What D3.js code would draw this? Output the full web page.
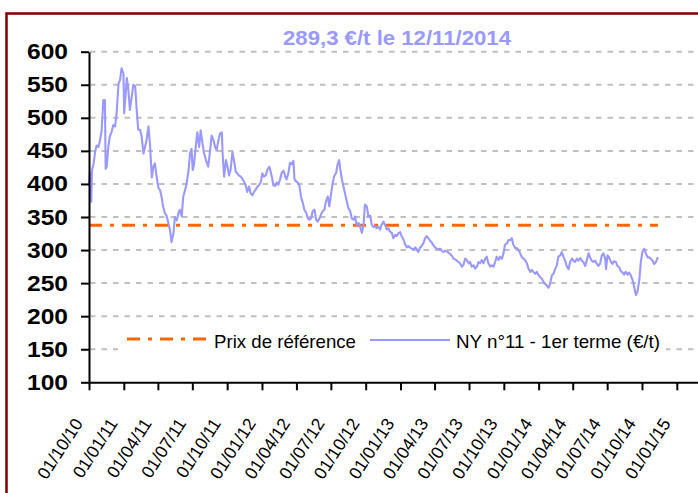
<!DOCTYPE html>
<html>
<head>
<meta charset="utf-8">
<script src="https://cdn.jsdelivr.net/npm/d3@7"></script>
<style>
	body { margin: 0; background: #fff; }
	svg { display: block; font-family: "Liberation Sans", Arial, sans-serif; }
</style>
</head>
<body>
<svg id="viz"></svg>
<script>

	// the data (NY n°11, 1er terme, en €/t)
	var dates = [
		"2010-10-01","2010-10-03","2010-10-05","2010-10-07","2010-10-09","2010-10-13","2010-10-17","2010-10-21","2010-10-26","2010-10-30",
		"2010-11-03","2010-11-08","2010-11-12","2010-11-14","2010-11-17","2010-11-21","2010-11-25","2010-11-30",
		"2010-12-04","2010-12-09","2010-12-13","2010-12-18","2010-12-22","2010-12-26","2010-12-31",
		"2011-01-02","2011-01-04","2011-01-09","2011-01-13","2011-01-17","2011-01-22","2011-01-26","2011-01-31",
		"2011-02-04","2011-02-08","2011-02-13","2011-02-17","2011-02-22","2011-02-26",
		"2011-03-02","2011-03-07","2011-03-11","2011-03-16","2011-03-20","2011-03-24","2011-03-29",
		"2011-04-02","2011-04-07","2011-04-11","2011-04-15","2011-04-20","2011-04-24","2011-04-29",
		"2011-05-03","2011-05-07","2011-05-12","2011-05-16","2011-05-21","2011-05-25","2011-05-29",
		"2011-06-03","2011-06-07","2011-06-12","2011-06-16","2011-06-21","2011-06-25","2011-06-29",
		"2011-07-02","2011-07-05","2011-07-10","2011-07-14","2011-07-19","2011-07-23","2011-07-28",
		"2011-08-01","2011-08-06","2011-08-12","2011-08-17","2011-08-21","2011-08-26","2011-08-30",
		"2011-09-03","2011-09-08","2011-09-12","2011-09-17","2011-09-19","2011-09-23","2011-09-28",
		"2011-10-02","2011-10-06","2011-10-10","2011-10-15","2011-10-19","2011-10-24","2011-10-28",
		"2011-11-01","2011-11-06","2011-11-10","2011-11-15","2011-11-19","2011-11-23","2011-11-28",
		"2011-12-02","2011-12-07","2011-12-11","2011-12-15","2011-12-20","2011-12-24","2011-12-29",
		"2012-01-02","2012-01-06","2012-01-11","2012-01-15","2012-01-20","2012-01-22","2012-01-27","2012-01-31",
		"2012-02-05","2012-02-09","2012-02-13","2012-02-18","2012-02-22","2012-02-27",
		"2012-03-02","2012-03-06","2012-03-11","2012-03-15","2012-03-20","2012-03-24","2012-03-27","2012-03-31",
		"2012-04-05","2012-04-09","2012-04-13","2012-04-18","2012-04-22","2012-04-27",
		"2012-05-01","2012-05-05","2012-05-10","2012-05-14","2012-05-19","2012-05-23","2012-05-27",
		"2012-06-01","2012-06-05","2012-06-10","2012-06-14","2012-06-18","2012-06-23","2012-06-27",
		"2012-07-02","2012-07-06","2012-07-10","2012-07-15","2012-07-19","2012-07-23","2012-07-26","2012-07-30",
		"2012-08-03","2012-08-08","2012-08-12","2012-08-16","2012-08-21","2012-08-25","2012-08-30",
		"2012-09-03","2012-09-07","2012-09-12","2012-09-16","2012-09-21","2012-09-25","2012-09-29",
		"2012-10-04","2012-10-08","2012-10-13","2012-10-17","2012-10-21","2012-10-26","2012-10-30",
		"2012-11-04","2012-11-08","2012-11-12","2012-11-17","2012-11-21","2012-11-26","2012-11-30",
		"2012-12-04","2012-12-09","2012-12-13","2012-12-18","2012-12-22","2012-12-27","2012-12-31",
		"2013-01-04","2013-01-09","2013-01-13","2013-01-18","2013-01-22","2013-01-26","2013-01-31",
		"2013-02-04","2013-02-09","2013-02-13","2013-02-17","2013-02-22","2013-02-26",
		"2013-03-03","2013-03-07","2013-03-11","2013-03-16","2013-03-20","2013-03-25","2013-03-29",
		"2013-04-02","2013-04-07","2013-04-11","2013-04-16","2013-04-20","2013-04-24","2013-04-29",
		"2013-05-03","2013-05-08","2013-05-12","2013-05-16","2013-05-21","2013-05-25","2013-05-30",
		"2013-06-03","2013-06-07","2013-06-12","2013-06-16","2013-06-21","2013-06-25","2013-06-30",
		"2013-07-04","2013-07-08","2013-07-13","2013-07-17","2013-07-22","2013-07-26","2013-07-30",
		"2013-08-04","2013-08-08","2013-08-13","2013-08-17","2013-08-21","2013-08-26","2013-08-30",
		"2013-09-04","2013-09-08","2013-09-12","2013-09-17","2013-09-21","2013-09-26","2013-09-30",
		"2013-10-04","2013-10-09","2013-10-13","2013-10-18","2013-10-22","2013-10-26","2013-10-31",
		"2013-11-04","2013-11-09","2013-11-13","2013-11-17","2013-11-22","2013-11-26",
		"2013-12-01","2013-12-05","2013-12-10","2013-12-14","2013-12-18","2013-12-23","2013-12-27",
		"2014-01-01","2014-01-05","2014-01-09","2014-01-14","2014-01-18","2014-01-23","2014-01-27","2014-01-31",
		"2014-02-05","2014-02-09","2014-02-14","2014-02-18","2014-02-22","2014-02-27",
		"2014-03-03","2014-03-08","2014-03-12","2014-03-16","2014-03-21","2014-03-25","2014-03-30",
		"2014-04-03","2014-04-07","2014-04-12","2014-04-16","2014-04-21","2014-04-25","2014-04-29",
		"2014-05-04","2014-05-08","2014-05-13","2014-05-17","2014-05-21","2014-05-26","2014-05-30",
		"2014-06-04","2014-06-08","2014-06-12","2014-06-17","2014-06-21","2014-06-26","2014-06-28",
		"2014-07-02","2014-07-06","2014-07-11","2014-07-15","2014-07-19","2014-07-24","2014-07-28",
		"2014-08-02","2014-08-06","2014-08-11","2014-08-15","2014-08-19","2014-08-24","2014-08-28",
		"2014-09-02","2014-09-06","2014-09-10","2014-09-15","2014-09-19","2014-09-24","2014-09-28",
		"2014-10-02","2014-10-07","2014-10-11","2014-10-16","2014-10-20","2014-10-24","2014-10-29",
		"2014-11-02","2014-11-07","2014-11-12"
	];

	var prices = [
		400,417,386,373,421,430,448,458,456,466,
		479,527,527,423,426,456,472,479,
		489,487,507,552,557,575,567,
		507,522,560,542,512,532,550,548,
		512,482,482,472,446,456,
		466,487,461,410,426,431,410,
		395,390,380,365,355,352,340,
		330,312,325,350,345,355,361,
		351,381,391,401,421,446,453,
		421,428,456,478,456,481,461,
		446,436,426,451,473,466,456,
		451,466,476,478,446,411,436,
		426,413,421,448,436,418,416,
		413,411,408,403,398,388,396,
		386,383,388,391,396,398,403,
		416,411,413,421,426,423,411,398,
		397,402,399,407,417,420,
		412,407,417,432,430,435,407,404,
		402,397,381,371,361,356,
		348,346,348,359,361,346,343,
		348,354,359,361,374,381,366,
		387,402,412,417,430,436,422,407,
		397,384,374,364,359,348,346,
		351,338,341,336,326,336,369,
		366,351,352,338,335,336,333,
		335,331,338,343,338,331,333,
		328,326,318,323,321,326,327,
		321,316,309,304,306,304,302,
		301,304,301,297,304,306,
		311,318,321,318,314,311,307,
		304,302,301,302,299,297,299,
		298,296,294,292,287,286,284,
		282,280,275,277,287,285,280,
		282,275,277,272,275,282,280,
		285,280,287,290,280,275,277,
		275,282,290,285,290,287,295,
		308,310,315,315,318,308,303,
		303,300,295,290,287,285,
		280,272,267,270,267,264,267,
		262,259,257,252,249,246,243,249,
		262,264,272,277,290,292,
		297,289,284,276,271,282,287,
		284,282,287,284,288,284,282,
		276,284,295,289,284,282,284,
		279,276,279,292,295,287,271,
		292,289,282,279,283,282,276,
		274,268,266,263,267,263,266,
		261,255,245,232,237,255,282,
		297,302,295,289,289,287,284,
		279,282,289.3
	];

	var prixReference = 337.5;
	var yTicks = [100, 150, 200, 250, 300, 350, 400, 450, 500, 550, 600];
	var xTickLabels = ["01/10/10","01/01/11","01/04/11","01/07/11","01/10/11","01/01/12",
		"01/04/12","01/07/12","01/10/12","01/01/13","01/04/13","01/07/13","01/10/13",
		"01/01/14","01/04/14","01/07/14","01/10/14","01/01/15"];
	var titre = "289,3 €/t le 12/11/2014";
	var legendLabels = ["Prix de référence", "NY n°11 - 1er terme (€/t)"];


	// set up the svg
	var w = 698;
	var h = 493;
	var svg = d3.select("#viz");
	svg.attr("width", w).attr("height", h);

	var parseDate = d3.timeParse("%Y-%m-%d");
	var parseTick = d3.timeParse("%d/%m/%y");
	var data = dates.map(function(d, i) {
		return {date: parseDate(d), value: prices[i]};
	});

	var x = d3.scaleTime()
		.domain([parseDate("2010-10-01"), parseDate("2015-02-26")])
		.range([89, 698]);
	var y = d3.scaleLinear()
		.domain([100, 600])
		.range([382.3, 51.7]);

	// outer frame
	svg.append("rect")
		.attr("x", 6.5).attr("y", 13.5)
		.attr("width", 760).attr("height", 560)
		.attr("fill", "none")
		.attr("stroke", "#800000")
		.attr("stroke-width", 2.5);

	// gridlines
	svg.append("g").selectAll("line")
		.data(yTicks.filter(function(v) { return v > 100; }))
		.enter().append("line")
		.attr("x1", 90).attr("x2", w)
		.attr("y1", function(d) { return y(d); })
		.attr("y2", function(d) { return y(d); })
		.attr("stroke", "#c0c0c0")
		.attr("stroke-width", 2)
		.attr("stroke-dasharray", "5.5,6");

	// reference price
	svg.append("line")
		.attr("x1", x(data[0].date))
		.attr("x2", x(data[data.length - 1].date))
		.attr("y1", y(prixReference))
		.attr("y2", y(prixReference))
		.attr("stroke", "#ff6600")
		.attr("stroke-width", 3)
		.attr("stroke-dasharray", "13,8,4,8");

	// price line
	var line = d3.line()
		.x(function(d) { return x(d.date); })
		.y(function(d) { return y(d.value); });

	svg.append("path")
		.datum(data)
		.attr("d", line)
		.attr("fill", "none")
		.attr("stroke", "#9999ff")
		.attr("stroke-width", 2.1)
		.attr("stroke-linejoin", "round");

	// legend
	var legend = svg.append("g");
	legend.append("rect")
		.attr("x", 118).attr("y", 322)
		.attr("width", 548).attr("height", 34)
		.attr("fill", "#fff");
	legend.append("line")
		.attr("x1", 127).attr("x2", 208)
		.attr("y1", 339).attr("y2", 339)
		.attr("stroke", "#ff6600")
		.attr("stroke-width", 3)
		.attr("stroke-dasharray", "13,8,4,8");
	legend.append("line")
		.attr("x1", 370).attr("x2", 450)
		.attr("y1", 340).attr("y2", 340)
		.attr("stroke", "#9999ff")
		.attr("stroke-width", 2);
	legend.selectAll("text")
		.data(legendLabels)
		.enter().append("text")
		.attr("x", function(d, i) { return i === 0 ? 214 : 456; })
		.attr("y", 348)
		.attr("font-size", "19px")
		.attr("textLength", function(d, i) { return i === 0 ? 142 : 204; })
		.attr("lengthAdjust", "spacingAndGlyphs")
		.attr("fill", "#000")
		.text(function(d) { return d; });

	// axes
	var yAxis = d3.axisLeft(y)
		.tickValues(yTicks)
		.tickSize(8)
		.tickSizeOuter(0)
		.tickPadding(13);
	var gy = svg.append("g")
		.attr("transform", "translate(89,0)")
		.call(yAxis);
	gy.selectAll("text")
		.attr("font-size", "22px")
		.attr("font-weight", "bold")
		.attr("font-family", "'Liberation Sans', Arial, sans-serif")
		.attr("fill", "#000")
		.attr("textLength", 41)
		.attr("lengthAdjust", "spacingAndGlyphs");

	var xAxis = d3.axisBottom(x)
		.tickValues(xTickLabels.map(parseTick))
		.tickFormat(d3.timeFormat("%d/%m/%y"))
		.tickSize(8)
		.tickSizeOuter(0);
	var gx = svg.append("g")
		.attr("transform", "translate(0,382.3)")
		.call(xAxis);
	gx.selectAll("text")
		.attr("x", -6)
		.attr("y", 41)
		.attr("dy", 0)
		.attr("text-anchor", "end")
		.attr("transform", "rotate(-57,-6,41)")
		.attr("font-size", "17.5px")
		.attr("font-family", "'Liberation Sans', Arial, sans-serif")
		.attr("fill", "#000");

	svg.selectAll(".domain, .tick line")
		.attr("stroke", "#000")
		.attr("stroke-width", 2);

	// title
	svg.append("text")
		.attr("x", 397)
		.attr("y", 45)
		.attr("text-anchor", "middle")
		.attr("font-size", "20px")
		.attr("font-weight", "bold")
		.attr("fill", "#9999ff")
		.attr("textLength", 228)
		.attr("lengthAdjust", "spacingAndGlyphs")
		.text(titre);

</script>
</body>
</html>
